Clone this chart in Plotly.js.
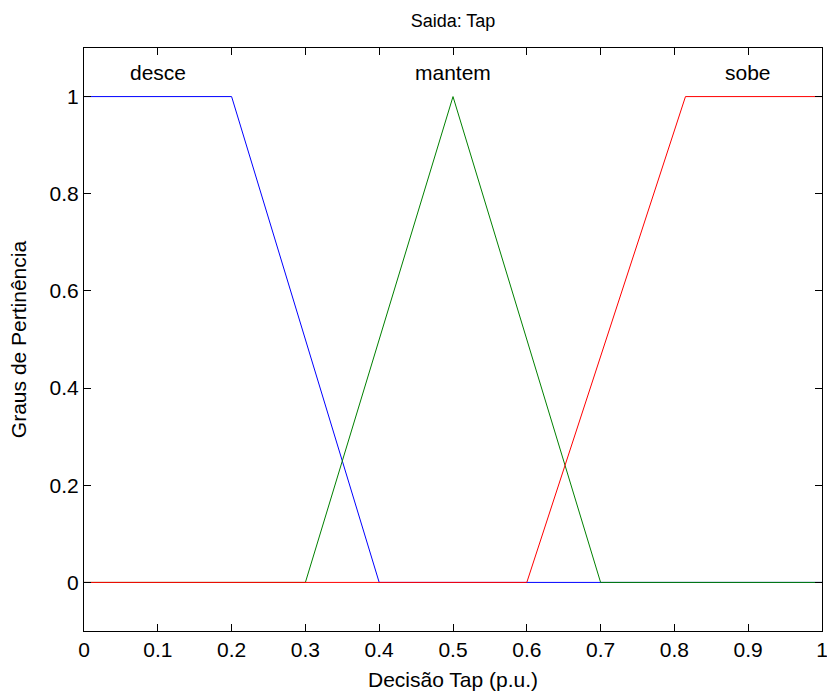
<!DOCTYPE html>
<html>
<head>
<meta charset="utf-8">
<script src="https://cdn.plot.ly/plotly-3.0.1.min.js"></script>
<style>html,body{margin:0;padding:0;background:#fff;}#chart{width:827px;height:691px;}</style>
</head>
<body>
<div id="chart"></div>
<script>
// Membership functions (breakpoints)
var desceX = [0, 0.2, 0.4, 1];
var desceY = [1, 1, 0, 0];
var mantemX = [0, 0.3, 0.5, 0.7, 1];
var mantemY = [0, 0, 1, 0, 0];
var sobeX = [0, 0.6, 0.815, 1];
var sobeY = [0, 0, 1, 1];
var labelNames = ['desce', 'mantem', 'sobe'];
var labelX = [0.1, 0.5, 0.9];
var labelY = [1.05, 1.05, 1.05];
var xTicks = [0, 0.1, 0.2, 0.3, 0.4, 0.5, 0.6, 0.7, 0.8, 0.9, 1];
var xTickText = ['0', '0.1', '0.2', '0.3', '0.4', '0.5', '0.6', '0.7', '0.8', '0.9', '1'];
var yTicks = [0, 0.2, 0.4, 0.6, 0.8, 1];
var yTickText = ['0', '0.2', '0.4', '0.6', '0.8', '1'];

var font = 'Liberation Sans, Arial, Helvetica, sans-serif';
var fs = 21;

var traces = [
  {x: desceX, y: desceY, mode: 'lines', line: {color: '#0000ff', width: 1}, hoverinfo: 'skip'},
  {x: mantemX, y: mantemY, mode: 'lines', line: {color: '#008000', width: 1}, hoverinfo: 'skip'},
  {x: sobeX, y: sobeY, mode: 'lines', line: {color: '#ff0000', width: 1}, hoverinfo: 'skip'}
];

var annotations = labelNames.map(function (t, i) {
  return {x: labelX[i], y: labelY[i], xref: 'x', yref: 'y', text: t, showarrow: false,
          font: {family: font, size: fs, color: '#000'}, xanchor: 'center', yanchor: 'middle'};
});

var axisCommon = {
  showgrid: false, zeroline: false, showline: true, linecolor: '#000', linewidth: 1,
  mirror: 'ticks', ticks: 'inside', ticklen: 7, tickwidth: 1, tickcolor: '#000',
  tickfont: {family: font, size: fs, color: '#000'}, tickmode: 'array', fixedrange: true,
  ticklabeloverflow: 'allow', automargin: false
};

var layout = {
  width: 827, height: 691,
  margin: {l: 84, r: 5, t: 48, b: 60},
  paper_bgcolor: '#fff', plot_bgcolor: '#fff',
  showlegend: false,
  title: {text: 'Saida: Tap', font: {family: font, size: 18, color: '#000'}, x: 0.5, xref: 'paper', xanchor: 'center', y: 0.97, yanchor: 'middle', yref: 'container'},
  xaxis: Object.assign({}, axisCommon, {
    range: [0, 1], tickvals: xTicks, ticktext: xTickText,
    title: {text: 'Decisão Tap (p.u.)', font: {family: font, size: fs, color: '#000'}, standoff: 13}
  }),
  yaxis: Object.assign({}, axisCommon, {
    range: [-0.1, 1.1], tickvals: yTicks, ticktext: yTickText,
    title: {text: 'Graus de Pertinência', font: {family: font, size: fs, color: '#000'}, standoff: 17}
  }),
  annotations: annotations
};

Plotly.newPlot('chart', traces, layout, {displayModeBar: false, staticPlot: true});
</script>
</body>
</html>
